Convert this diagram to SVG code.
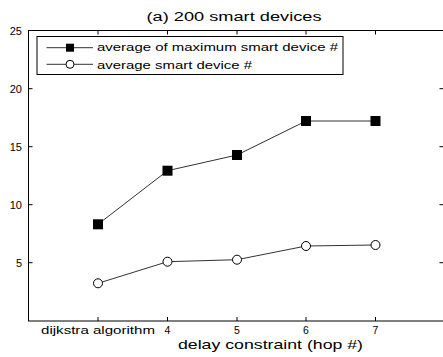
<svg xmlns="http://www.w3.org/2000/svg" width="443" height="357" viewBox="0 0 443 357">
<style>
text{font-family:"Liberation Sans",Arial,sans-serif;fill:#000}
.ax{stroke:#000;stroke-width:1;fill:none}
.tk{stroke:#000;stroke-width:1}
.ser{stroke:#333;stroke-width:1;fill:none}
.sq{fill:#000}
.ci{fill:#fff;stroke:#000;stroke-width:1}
.yl{font-size:11px;text-anchor:end}
.xl{font-size:10.5px;text-anchor:middle}
.lg{font-size:11px}
</style>
<rect width="443" height="357" fill="#fff"/>
<text id="title" x="234" y="21" font-size="12.5" text-anchor="middle" textLength="175" lengthAdjust="spacingAndGlyphs">(a) 200 smart devices</text>
<g id="axes">
<rect class="ax" x="28.5" y="30.5" width="417" height="290.5"/>
<g class="tk">
<line x1="28.5" y1="88.7" x2="32.5" y2="88.7"/>
<line x1="28.5" y1="146.7" x2="32.5" y2="146.7"/>
<line x1="28.5" y1="204.7" x2="32.5" y2="204.7"/>
<line x1="28.5" y1="262.7" x2="32.5" y2="262.7"/>
<line x1="445.5" y1="88.7" x2="439.5" y2="88.7"/>
<line x1="445.5" y1="146.7" x2="439.5" y2="146.7"/>
<line x1="445.5" y1="204.7" x2="439.5" y2="204.7"/>
<line x1="445.5" y1="262.7" x2="439.5" y2="262.7"/>
<line x1="98" y1="321" x2="98" y2="317"/>
<line x1="167.5" y1="321" x2="167.5" y2="317"/>
<line x1="237" y1="321" x2="237" y2="317"/>
<line x1="306" y1="321" x2="306" y2="317"/>
<line x1="375.5" y1="321" x2="375.5" y2="317"/>
<line x1="98" y1="30.5" x2="98" y2="34.5"/>
<line x1="167.5" y1="30.5" x2="167.5" y2="34.5"/>
<line x1="237" y1="30.5" x2="237" y2="34.5"/>
<line x1="306" y1="30.5" x2="306" y2="34.5"/>
<line x1="375.5" y1="30.5" x2="375.5" y2="34.5"/>
</g>
<text class="yl" x="22" y="35">25</text>
<text class="yl" x="22" y="93">20</text>
<text class="yl" x="22" y="151">15</text>
<text class="yl" x="22" y="209">10</text>
<text class="yl" x="22" y="267">5</text>
<text class="xl" x="98" y="334" textLength="114" lengthAdjust="spacingAndGlyphs">dijkstra algorithm</text>
<text class="xl" x="167.5" y="333.5">4</text>
<text class="xl" x="237" y="333.5">5</text>
<text class="xl" x="306" y="333.5">6</text>
<text class="xl" x="375.5" y="333.5">7</text>
<text x="270.5" y="348.5" font-size="13" text-anchor="middle" textLength="185" lengthAdjust="spacingAndGlyphs">delay constraint (hop #)</text>
</g>
<g id="series-max">
<polyline class="ser" points="98,224.3 167.5,170.7 237,155 306,121 375.5,121"/>
<rect class="sq" x="93" y="219.3" width="10" height="10"/>
<rect class="sq" x="162.5" y="165.7" width="10" height="10"/>
<rect class="sq" x="232" y="150" width="10" height="10"/>
<rect class="sq" x="301" y="116" width="10" height="10"/>
<rect class="sq" x="370.5" y="116" width="10" height="10"/>
</g>
<g id="series-avg">
<polyline class="ser" points="98,283.3 167.5,261.7 237,259.7 306,246 375.5,245"/>
<circle class="ci" cx="98" cy="283.3" r="4.5"/>
<circle class="ci" cx="167.5" cy="261.7" r="4.5"/>
<circle class="ci" cx="237" cy="259.7" r="4.5"/>
<circle class="ci" cx="306" cy="246" r="4.5"/>
<circle class="ci" cx="375.5" cy="245" r="4.5"/>
</g>
<g id="legend">
<rect x="37" y="36.5" width="306" height="38" fill="#fff" stroke="#000" stroke-width="1"/>
<line class="ser" x1="46.5" y1="47.7" x2="93" y2="47.7"/>
<rect class="sq" x="66" y="43.7" width="8" height="8"/>
<line class="ser" x1="46.5" y1="64.3" x2="93" y2="64.3"/>
<circle class="ci" cx="70" cy="64.3" r="4"/>
<text class="lg" x="97" y="51" textLength="241" lengthAdjust="spacingAndGlyphs">average of maximum smart device #</text>
<text class="lg" x="97" y="68.5" textLength="155" lengthAdjust="spacingAndGlyphs">average smart device #</text>
</g>
</svg>
